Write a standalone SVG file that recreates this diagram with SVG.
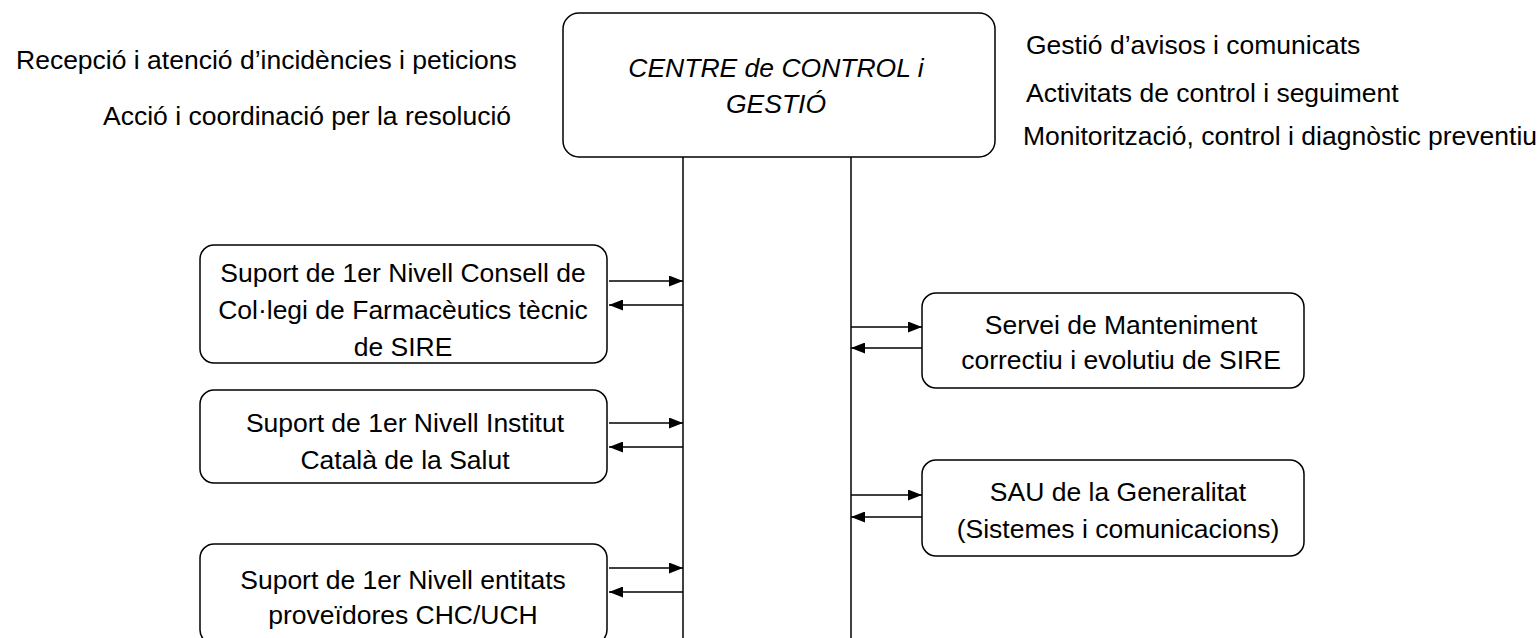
<svg xmlns="http://www.w3.org/2000/svg" width="1540" height="638" viewBox="0 0 1540 638">
<defs>
<marker id="ah" viewBox="0 0 14 11" refX="14" refY="5.5" markerWidth="14" markerHeight="11" markerUnits="userSpaceOnUse" orient="auto">
<path d="M0,0 L14,5.5 L0,11 z" fill="#000"/>
</marker>
<style>
.box{fill:#fff;stroke:#000;stroke-width:1.5}
.t{font-family:"Liberation Sans",Arial,sans-serif;font-size:26.5px;fill:#000}
.c{text-anchor:middle}
.ln{stroke:#000;stroke-width:1.5;fill:none}
.ar{stroke:#000;stroke-width:1.5;fill:none;marker-end:url(#ah)}
</style>
</defs>
<rect width="1540" height="638" fill="#fff"/>
<g id="notes">
<text class="t" x="16" y="69">Recepció i atenció d’incidències i peticions</text>
<text class="t" x="103" y="125">Acció i coordinació per la resolució</text>
<text class="t" x="1026" y="54">Gestió d’avisos i comunicats</text>
<text class="t" x="1026" y="102">Activitats de control i seguiment</text>
<text class="t" x="1023" y="145">Monitorització, control i diagnòstic preventiu</text>
</g>
<g id="centre">
<rect class="box" x="563" y="13" width="432" height="144" rx="16"/>
<text class="t c" x="776" y="77" font-style="italic">CENTRE de CONTROL i</text>
<text class="t c" x="776" y="113" font-style="italic">GESTIÓ</text>
</g>
<g id="n1">
<rect class="box" x="200" y="245" width="407" height="118" rx="14"/>
<text class="t c" x="403" y="282">Suport de 1er Nivell Consell de</text>
<text class="t c" x="403" y="319">Col·legi de Farmacèutics tècnic</text>
<text class="t c" x="403" y="356">de SIRE</text>
</g>
<g id="n2">
<rect class="box" x="200" y="390" width="407" height="93" rx="14"/>
<text class="t c" x="405" y="432">Suport de 1er Nivell Institut</text>
<text class="t c" x="405" y="469">Català de la Salut</text>
</g>
<g id="n3">
<rect class="box" x="200" y="544" width="407" height="100" rx="14"/>
<text class="t c" x="403" y="589">Suport de 1er Nivell entitats</text>
<text class="t c" x="403" y="624">proveïdores CHC/UCH</text>
</g>
<g id="n4">
<rect class="box" x="922" y="293" width="382" height="95" rx="14"/>
<text class="t c" x="1121" y="334">Servei de Manteniment</text>
<text class="t c" x="1121" y="369">correctiu i evolutiu de SIRE</text>
</g>
<g id="n5">
<rect class="box" x="922" y="460" width="382" height="96" rx="14"/>
<text class="t c" x="1118" y="501">SAU de la Generalitat</text>
<text class="t c" x="1118" y="538">(Sistemes i comunicacions)</text>
</g>
<g id="connectors">
<line class="ln" x1="683" y1="157" x2="683" y2="638"/>
<line class="ln" x1="851" y1="157" x2="851" y2="638"/>
<line class="ar" x1="609" y1="281" x2="683" y2="281"/>
<line class="ar" x1="683" y1="305" x2="609" y2="305"/>
<line class="ar" x1="609" y1="423" x2="683" y2="423"/>
<line class="ar" x1="683" y1="447" x2="609" y2="447"/>
<line class="ar" x1="609" y1="568" x2="683" y2="568"/>
<line class="ar" x1="683" y1="592" x2="609" y2="592"/>
<line class="ar" x1="851" y1="327" x2="922" y2="327"/>
<line class="ar" x1="922" y1="348" x2="851" y2="348"/>
<line class="ar" x1="851" y1="495" x2="922" y2="495"/>
<line class="ar" x1="922" y1="517" x2="851" y2="517"/>
</g>
</svg>
